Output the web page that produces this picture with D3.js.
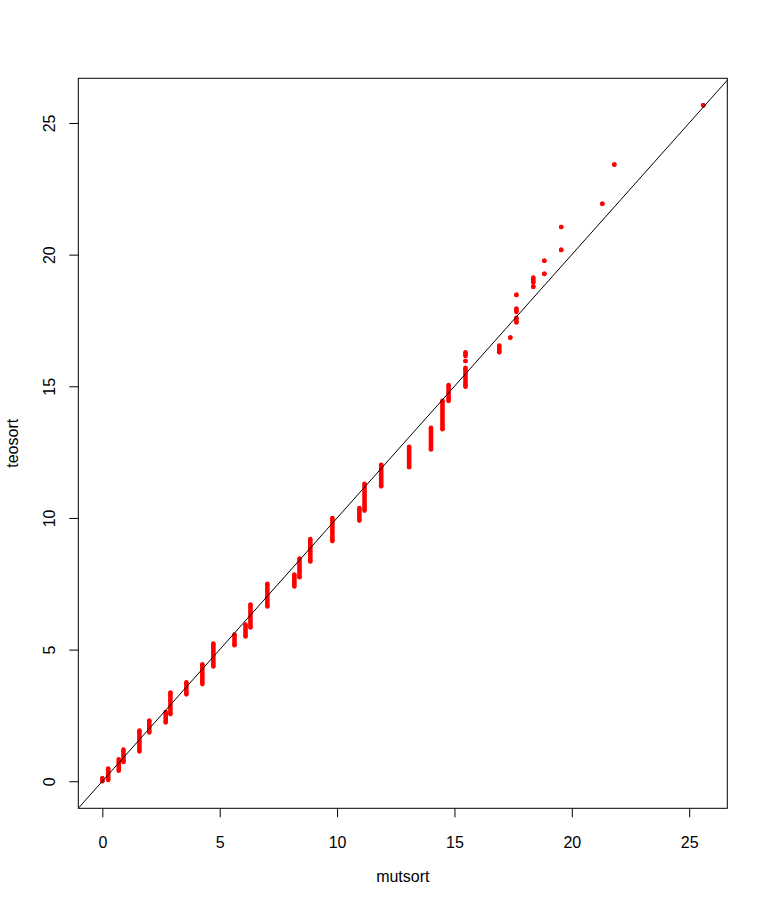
<!DOCTYPE html>
<html>
<head>
<meta charset="utf-8">
<script src="https://cdn.jsdelivr.net/npm/d3@7"></script>
<style>
  body { margin: 0; background: #fff; }
  text { font-family: "Liberation Sans", Arial, sans-serif; font-size: 16px; fill: #000; }
</style>
</head>
<body>
<div id="wrapper"></div>
<script>
// sorted quantiles: runs of equal mutsort values, with the teosort range they cover
const mutX  = [0.0, 0.25, 0.7, 0.9, 1.58, 2.0, 2.7, 2.9, 3.58, 4.26, 4.73, 5.63, 6.1, 6.31, 7.03,
               8.18, 8.4, 8.86, 9.8, 10.95, 11.17, 11.88, 13.07, 14.0, 14.49, 14.75,
               15.47, 15.47, 15.47, 16.91, 17.38, 17.64, 17.64, 17.64, 18.36, 18.36,
               18.83, 18.83, 19.55, 19.55, 21.3, 21.81, 25.6];
const teoLo = [0.0, 0.05, 0.4, 0.73, 1.13, 1.85, 2.23, 2.55, 3.3, 3.69, 4.36, 5.17, 5.5, 5.84, 6.64,
               7.4, 7.75, 8.35, 9.12, 9.9, 10.28, 11.2, 11.93, 12.6, 13.37, 14.44,
               14.98, 15.96, 16.15, 16.29, 16.85, 17.42, 17.82, 18.47, 18.78, 18.93,
               19.27, 19.77, 20.18, 21.05, 21.93, 23.42, 25.67];
const teoHi = [0.12, 0.48, 0.83, 1.2, 1.93, 2.31, 2.63, 3.37, 3.76, 4.44, 5.23, 5.57, 5.95, 6.71, 7.5,
               7.85, 8.46, 9.2, 10.0, 10.38, 11.3, 12.02, 12.7, 13.42, 14.45, 15.05,
               15.7, 15.96, 16.29, 16.55, 16.85, 17.6, 17.95, 18.47, 18.78, 19.13,
               19.27, 19.77, 20.18, 21.05, 21.93, 23.42, 25.67];
const xTicks = [0, 5, 10, 15, 20, 25];
const yTicks = [0, 5, 10, 15, 20, 25];

const runs = mutX.map((x, i) => ({ x: x, lo: teoLo[i], hi: teoHi[i] }));

const width = 768, height = 906;
const margin = { top: 78.3, right: 40.7, bottom: 97.7, left: 78.3 };

const svg = d3.select("#wrapper").append("svg")
    .attr("width", width)
    .attr("height", height);

// R-style 4% padding on the data range
function pad(ext) {
    const d = (ext[1] - ext[0]) * 0.04;
    return [ext[0] - d, ext[1] + d];
}
const xScale = d3.scaleLinear()
    .domain(pad([d3.min(mutX), d3.max(mutX)]))
    .range([margin.left, width - margin.right]);
const yScale = d3.scaleLinear()
    .domain(pad([d3.min(teoLo), d3.max(teoHi)]))
    .range([height - margin.bottom, margin.top]);

svg.append("clipPath").attr("id", "plotclip")
    .append("rect")
    .attr("x", margin.left).attr("y", margin.top)
    .attr("width", width - margin.left - margin.right)
    .attr("height", height - margin.top - margin.bottom);

// points
const pts = svg.append("g").attr("fill", "#ff0000").attr("stroke", "#ff0000");
pts.selectAll("line").data(runs.filter(d => d.hi > d.lo)).join("line")
    .attr("x1", d => xScale(d.x)).attr("x2", d => xScale(d.x))
    .attr("y1", d => yScale(d.lo)).attr("y2", d => yScale(d.hi))
    .attr("stroke-width", 4.6);
pts.selectAll("circle.lo").data(runs).join("circle").attr("class", "lo")
    .attr("cx", d => xScale(d.x)).attr("cy", d => yScale(d.lo))
    .attr("r", 2.3).attr("stroke", "none");
pts.selectAll("circle.hi").data(runs).join("circle").attr("class", "hi")
    .attr("cx", d => xScale(d.x)).attr("cy", d => yScale(d.hi))
    .attr("r", 2.3).attr("stroke", "none");

// y = x reference line
const ref = xScale.domain();
svg.append("line")
    .attr("clip-path", "url(#plotclip)")
    .attr("x1", xScale(ref[0] - 2)).attr("y1", yScale(ref[0] - 2))
    .attr("x2", xScale(ref[1] + 2)).attr("y2", yScale(ref[1] + 2))
    .attr("stroke", "#000").attr("stroke-width", 1);

// box
svg.append("rect")
    .attr("x", margin.left).attr("y", margin.top)
    .attr("width", width - margin.left - margin.right)
    .attr("height", height - margin.top - margin.bottom)
    .attr("fill", "none").attr("stroke", "#000").attr("stroke-width", 1);

// axes
const xAxis = svg.append("g")
    .attr("transform", `translate(0,${height - margin.bottom})`)
    .call(d3.axisBottom(xScale).tickValues(xTicks).tickSize(9).tickPadding(19).tickFormat(d3.format("d")));
xAxis.select(".domain").remove();
xAxis.selectAll("text").style("font-size", "16px").attr("fill", "#000");

const yAxis = svg.append("g")
    .attr("transform", `translate(${margin.left},0)`)
    .call(d3.axisLeft(yScale).tickValues(yTicks).tickSize(9).tickFormat(d3.format("d")));
yAxis.select(".domain").remove();
yAxis.selectAll("text")
    .style("font-size", "16px").attr("fill", "#000")
    .attr("x", null).attr("dy", null)
    .attr("text-anchor", "middle")
    .attr("transform", "translate(-23,0) rotate(-90)");

// axis titles
svg.append("text")
    .attr("x", (margin.left + width - margin.right) / 2)
    .attr("y", 881.5)
    .attr("text-anchor", "middle")
    .text("mutsort");
svg.append("text")
    .attr("transform", `translate(18.3,${(margin.top + height - margin.bottom) / 2}) rotate(-90)`)
    .attr("text-anchor", "middle")
    .text("teosort");
</script>
</body>
</html>
